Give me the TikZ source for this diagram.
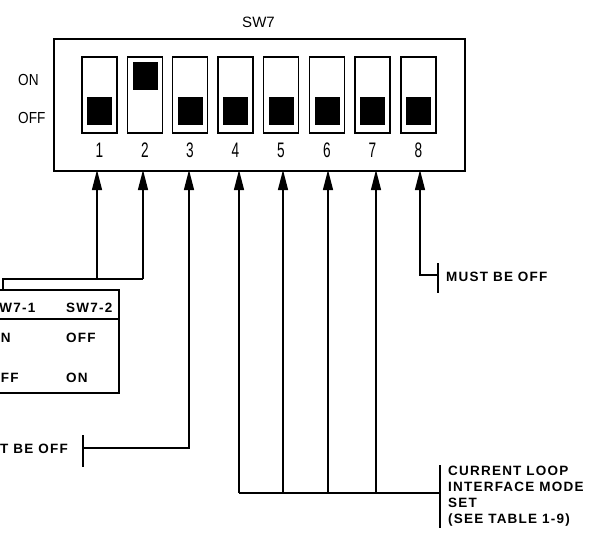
\documentclass[tikz,border=0pt]{standalone}
\usepackage{fontspec}
\usepackage{graphicx}
\setmainfont{Liberation Sans}
\newfontfamily\labelfont[LetterSpace=9]{Liberation Sans}
\usetikzlibrary{arrows.meta}
\usetikzlibrary{calc}

\begin{document}
\begin{tikzpicture}[x=1pt, y=-1pt,
  slot/.style={draw, line width=1.4pt, minimum width=35pt, minimum height=76pt, inner sep=0pt},
  knob/.style={fill=black, minimum width=25pt, minimum height=28pt, inner sep=0pt},
  arr/.style={-{Triangle[length=20pt, width=10pt]}, line width=1.3pt},
  wire/.style={line width=1.3pt},
  tickbar/.style={line width=1.4pt},
  lbl/.style={font=\labelfont\bfseries\fontsize{13.5}{16}\selectfont, inner sep=0pt},
  num/.style={font=\fontsize{21}{21}\selectfont, inner sep=0pt}]
\useasboundingbox (0,0) rectangle (590,533);
\clip (0,0) rectangle (590,533);
% switch body
\node[draw, line width=2pt, minimum width=411pt, minimum height=132pt, anchor=north west, inner sep=0pt] (dip) at (53,38) {};
\node[font=\fontsize{15}{15}\selectfont, inner sep=0pt] (title) at (258.5,22) {SW7};
\node[font=\fontsize{16}{16}\selectfont, anchor=west, inner sep=0pt] (onlbl) at (18,80) {\scalebox{0.85}[1]{ON}};
\node[font=\fontsize{16}{16}\selectfont, anchor=west, inner sep=0pt] (offlbl) at (18,118) {\scalebox{0.85}[1]{OFF}};
% slides, numbers and arrow points
\foreach \i/\x/\a in {1/99.5/97, 2/145/143, 3/190/189, 4/235.5/239, 5/281/283, 6/327/328, 7/372.5/376, 8/418.5/420} {
  \node[slot] (s\i) at (\x,95) {};
  \node[num] (n\i) at (\x,150) {\scalebox{0.65}[1]{\i}};
  \coordinate (p\i) at (\a,170);
}
\foreach \i in {1,3,4,5,6,7,8}
  \node[knob] (k\i) at ($(s\i)+(0,16)$) {};
\node[knob] (k2) at ($(s2)+(0,-19.5)$) {};
% switches 1 and 2
\coordinate (bus12) at (0,279);
\coordinate (tabin) at (3,289);
\draw[arr] (p1 |- bus12) -- (p1);
\draw[arr] (p2 |- bus12) -- (p2);
\draw[wire] (tabin) |- (p2 |- bus12);
\node[draw, line width=1.6pt, minimum width=160pt, minimum height=103pt, anchor=north east, inner sep=0pt] (tab) at (120,289) {};
\coordinate (hdr) at (0,319);
\draw[wire] (tab.west |- hdr) -- (tab.east |- hdr);
\node[lbl, anchor=west] (h1) at (-11,308) {SW7-1};
\node[lbl, anchor=west] (h2) at (66,308) {SW7-2};
\node[lbl, anchor=west] (r11) at (-11,338) {ON};
\node[lbl, anchor=west] (r12) at (66,338) {OFF};
\node[lbl, anchor=west] (r21) at (-11,378) {OFF};
\node[lbl, anchor=west] (r22) at (66,378) {ON};
% switch 3
\coordinate (tick3) at (83,448);
\node[lbl, anchor=east] (must3) at (68,449) {MUST BE OFF};
\draw[tickbar] (tick3) ++(0,-13) -- ++(0,32);
\draw[arr] (tick3) -| (p3);
% switches 4 to 7
\coordinate (bus47) at (0,493);
\coordinate (tickB) at (440,493);
\foreach \i in {4,5,6,7}
  \draw[arr] (p\i |- bus47) -- (p\i);
\draw[wire] (p4 |- bus47) -- (tickB);
\draw[tickbar] (tickB) ++(0,-28) -- ++(0,63);
\node[lbl, anchor=north west, align=left] (loop) at (448,466) {CURRENT LOOP\\INTERFACE MODE\\SET\\(SEE TABLE 1-9)};
% switch 8
\coordinate (tick8) at (438,275);
\draw[tickbar] (tick8) ++(0,-12) -- ++(0,30);
\draw[arr] (tick8) -| (p8);
\node[lbl, anchor=west] (must8) at (446,277) {MUST BE OFF};
\end{tikzpicture}
\end{document}
